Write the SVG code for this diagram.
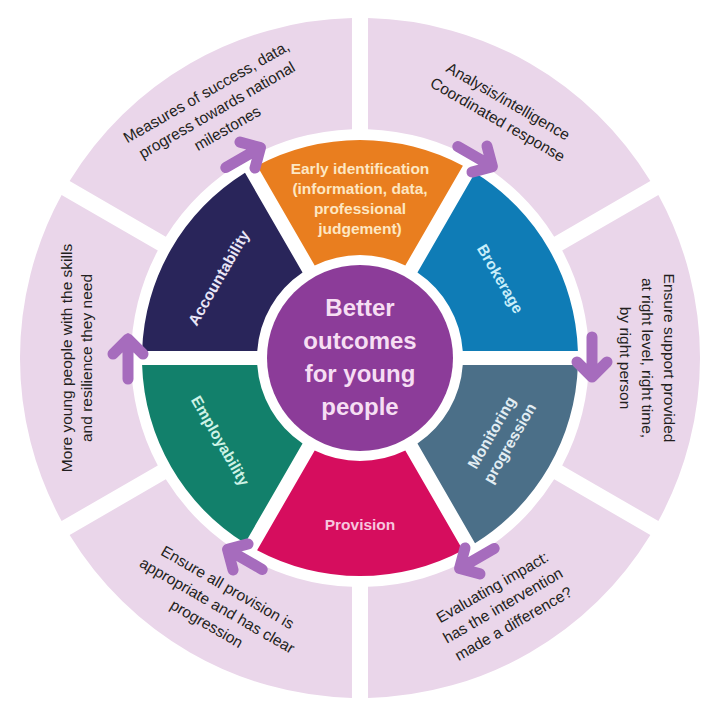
<svg xmlns="http://www.w3.org/2000/svg" width="720" height="725" viewBox="0 0 720 725">
<style>
.outer{fill:#ead6ea}
.otext{font-family:"Liberation Sans",Arial,sans-serif;font-size:15.5px;fill:#231f20;text-anchor:middle}
.itext{font-family:"Liberation Sans",Arial,sans-serif;font-size:15.5px;font-weight:bold;text-anchor:middle}
.ctext{font-family:"Liberation Sans",Arial,sans-serif;font-size:24px;font-weight:bold;fill:#f6def3;text-anchor:middle}
.arrow{fill:none;stroke:#a66cbd;stroke-width:11;stroke-linecap:round;stroke-linejoin:round}
</style>
<defs>
<path id="oseg" d="M197,59.6 A340,340 0 0 1 523,59.6 L467.5,155.8 A229,229 0 0 0 252.5,155.8 Z"/>
<path id="iseg" d="M257.1,165.8 A218,218 0 0 1 462.9,165.8 L405.3,265.5 A103,103 0 0 0 314.7,265.5 Z"/>
<path id="arr" d="M339,126 L379,126 M364,111 L379,126 L364,141"/>
</defs>
<rect width="720" height="725" fill="#ffffff"/>

<g id="outer-measures">
<use href="#oseg" class="outer" transform="rotate(-30 360 358)"/>
<g transform="translate(217,110.3) rotate(-30)">
<text class="otext" x="0" y="-16">Measures of success, data,</text>
<text class="otext" x="0" y="5">progress towards national</text>
<text class="otext" x="0" y="26">milestones</text>
</g>
</g>
<g id="outer-analysis">
<use href="#oseg" class="outer" transform="rotate(30 360 358)"/>
<g transform="translate(503,110.3) rotate(30)">
<text class="otext" x="0" y="-5">Analysis/intelligence</text>
<text class="otext" x="0" y="16">Coordinated response</text>
</g>
</g>
<g id="outer-support">
<use href="#oseg" class="outer" transform="rotate(90 360 358)"/>
<g transform="translate(647,358) rotate(90)">
<text class="otext" x="0" y="-17">Ensure support provided</text>
<text class="otext" x="0" y="5">at right level, right time,</text>
<text class="otext" x="0" y="27">by right person</text>
</g>
</g>
<g id="outer-evaluating">
<use href="#oseg" class="outer" transform="rotate(150 360 358)"/>
<g transform="translate(503,605.7) rotate(-30)">
<text class="otext" x="0" y="-16">Evaluating impact:</text>
<text class="otext" x="0" y="5">has the intervention</text>
<text class="otext" x="0" y="26">made a difference?</text>
</g>
</g>
<g id="outer-provision">
<use href="#oseg" class="outer" transform="rotate(210 360 358)"/>
<g transform="translate(217,605.7) rotate(30)">
<text class="otext" x="0" y="-16">Ensure all provision is</text>
<text class="otext" x="0" y="5">appropriate and has clear</text>
<text class="otext" x="0" y="26">progression</text>
</g>
</g>
<g id="outer-young">
<use href="#oseg" class="outer" transform="rotate(270 360 358)"/>
<g transform="translate(77,358) rotate(-90)">
<text class="otext" x="0" y="-5">More young people with the skills</text>
<text class="otext" x="0" y="15">and resilience they need</text>
</g>
</g>

<g id="node-early-identification">
<use href="#iseg" fill="#e97e1f"/>
<text class="itext" fill="#fde7c3" x="360" y="174">Early identification</text>
<text class="itext" fill="#fde7c3" x="360" y="194">(information, data,</text>
<text class="itext" fill="#fde7c3" x="360" y="214">professional</text>
<text class="itext" fill="#fde7c3" x="360" y="234">judgement)</text>
</g>
<g id="node-brokerage">
<use href="#iseg" fill="#0f7cb6" transform="rotate(60 360 358)"/>
<text class="itext" fill="#c8eefa" transform="translate(500,279) rotate(60)" x="0" y="5">Brokerage</text>
</g>
<g id="node-monitoring">
<use href="#iseg" fill="#4b6f88" transform="rotate(120 360 358)"/>
<g transform="translate(501,438) rotate(-60)">
<text class="itext" fill="#e2edf3" x="0" y="-5.5">Monitoring</text>
<text class="itext" fill="#e2edf3" x="0" y="15.5">progression</text>
</g>
</g>
<g id="node-provision">
<use href="#iseg" fill="#d60d5e" transform="rotate(180 360 358)"/>
<text class="itext" fill="#f7c6de" x="360" y="530">Provision</text>
</g>
<g id="node-employability">
<use href="#iseg" fill="#12806b" transform="rotate(240 360 358)"/>
<text class="itext" fill="#cdf3e6" transform="translate(220,441) rotate(60)" x="0" y="5">Employability</text>
</g>
<g id="node-accountability">
<use href="#iseg" fill="#29255a" transform="rotate(300 360 358)"/>
<text class="itext" fill="#e9e6f7" transform="translate(219,278) rotate(-60)" x="0" y="5">Accountability</text>
</g>

<g id="node-center">
<circle cx="360" cy="358" r="93" fill="#8c3c99"/>
<text class="ctext" x="360" y="316">Better</text>
<text class="ctext" x="360" y="349">outcomes</text>
<text class="ctext" x="360" y="382">for young</text>
<text class="ctext" x="360" y="415">people</text>
</g>

<g id="connectors">
<use href="#arr" class="arrow" transform="rotate(-30 360 358)"/>
<use href="#arr" class="arrow" transform="rotate(30 360 358)"/>
<use href="#arr" class="arrow" transform="rotate(90 360 358)"/>
<use href="#arr" class="arrow" transform="rotate(150 360 358)"/>
<use href="#arr" class="arrow" transform="rotate(210 360 358)"/>
<use href="#arr" class="arrow" transform="rotate(270 360 358)"/>
</g>
</svg>
